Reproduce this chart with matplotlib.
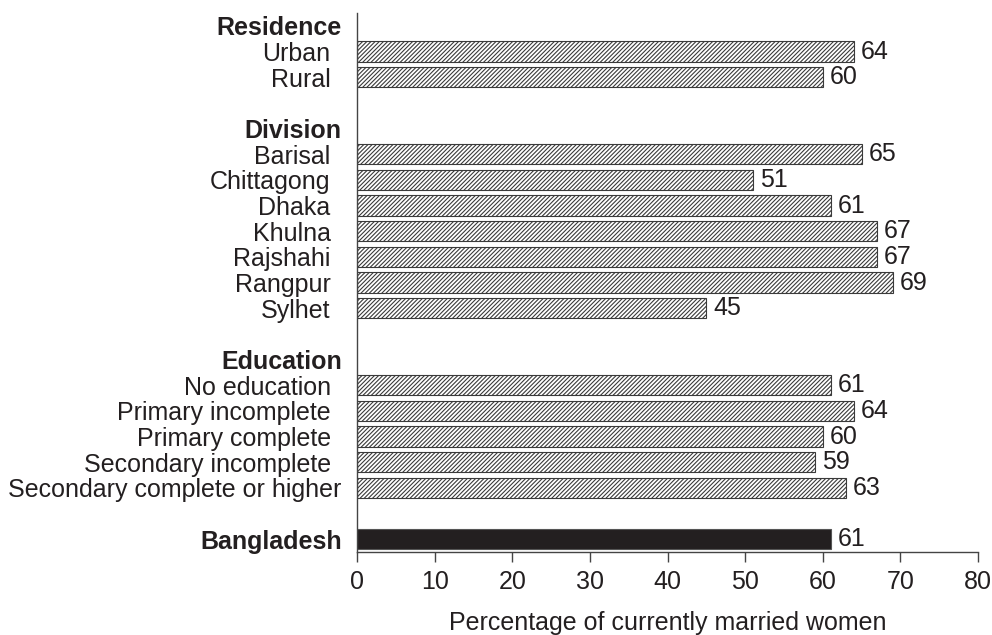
import matplotlib.pyplot as plt
import numpy as np

plt.rcParams['font.family'] = ['Liberation Sans', 'DejaVu Sans']
plt.rcParams['hatch.linewidth'] = 0.8

# Data
residence = ['Urban', 'Rural']
residence_vals = [64, 60]
division = ['Barisal', 'Chittagong', 'Dhaka', 'Khulna', 'Rajshahi', 'Rangpur', 'Sylhet']
division_vals = [65, 51, 61, 67, 67, 69, 45]
education = ['No education', 'Primary incomplete', 'Primary complete',
             'Secondary incomplete', 'Secondary complete or higher']
education_vals = [61, 64, 60, 59, 63]
national = 'Bangladesh'
national_val = 61

groups = [('Residence', residence, residence_vals),
          ('Division', division, division_vals),
          ('Education', education, education_vals)]

# build rows: header, items, blank
labels, values, kinds = [], [], []
for name, cats, vals in groups:
    labels.append(name); values.append(None); kinds.append('header')
    for c, v in zip(cats, vals):
        labels.append(c); values.append(v); kinds.append('item')
    labels.append(''); values.append(None); kinds.append('blank')
labels.append(national); values.append(national_val); kinds.append('total')

fig = plt.figure(figsize=(9.92, 6.35), dpi=100)
ax = fig.add_axes([0.36, 0.1307, 0.626, 0.8488])

dark = '#231f20'
for i, (v, k) in enumerate(zip(values, kinds)):
    if v is None:
        continue
    if k == 'total':
        ax.barh(i, v, height=0.8, color=dark, edgecolor='#555555', linewidth=0.8)
    else:
        ax.barh(i, v, height=0.8, color='white', edgecolor='#3a3a3a',
                hatch='////////', linewidth=0.8)
    ax.text(v + 0.9, i, str(v), va='center', ha='left', fontsize=18, color=dark)

ax.set_ylim(len(labels) - 0.5, -0.5)
ax.set_xlim(0, 80)
ax.set_xticks(np.arange(0, 81, 10))
ax.set_yticks(range(len(labels)))
ax.set_yticklabels(labels, fontsize=18, color=dark)
for i, (tick, k) in enumerate(zip(ax.yaxis.get_major_ticks(), kinds)):
    if k in ('header', 'total') or labels[i] == 'Secondary complete or higher':
        tick.set_pad(11)
        if k != 'item':
            tick.label1.set_fontweight('bold')
    else:
        tick.set_pad(19)
ax.tick_params(axis='y', length=0)
ax.tick_params(axis='x', direction='out', length=7, width=1, colors='#444444',
               labelsize=18, labelcolor=dark, pad=6)
for s in ['top', 'right']:
    ax.spines[s].set_visible(False)
for s in ['left', 'bottom']:
    ax.spines[s].set_color('#444444')
    ax.spines[s].set_linewidth(1)
ax.set_xlabel('Percentage of currently married women', fontsize=18, color=dark, labelpad=12)

fig.savefig('out.png', dpi=100)
